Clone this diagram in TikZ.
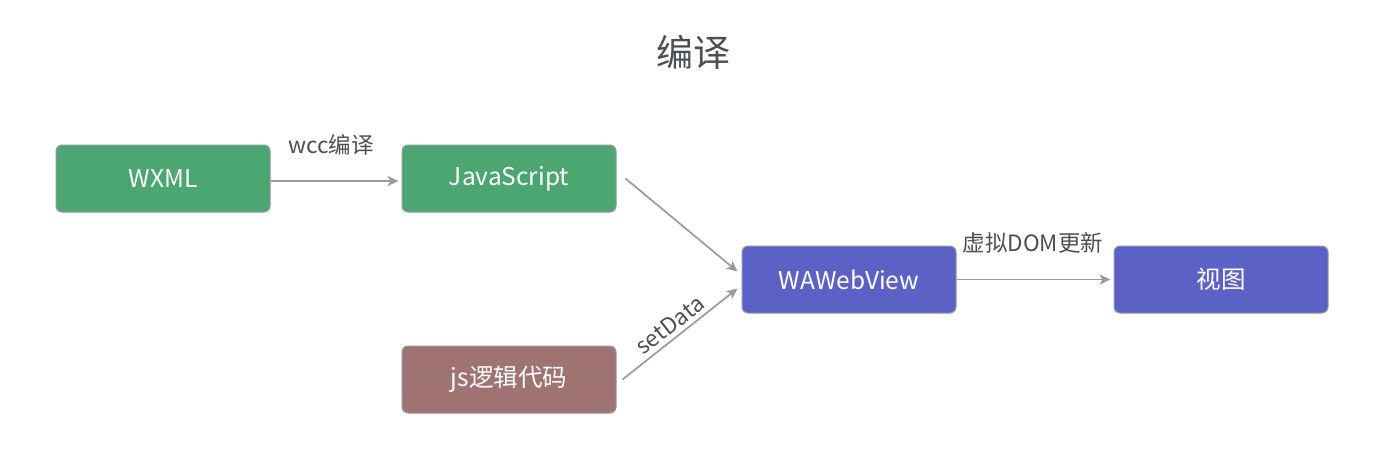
\documentclass[tikz,border=0pt]{standalone}
\usepackage{fontspec}
\setmainfont{Noto Sans CJK SC}
\usetikzlibrary{arrows.meta}

\definecolor{boxgreen}{HTML}{4BA672}
\definecolor{boxpurple}{HTML}{5C62C5}
\definecolor{boxbrown}{HTML}{A07373}
\definecolor{edgegray}{HTML}{8E9CA3}
\definecolor{linegray}{HTML}{9A9A9A}
\definecolor{textgray}{HTML}{4A4F54}

\begin{document}
\begin{tikzpicture}[x=1pt,y=-1pt,
    box/.style={draw=edgegray, line width=1pt, rounded corners=6pt,
      minimum width=214pt, minimum height=67pt, inner sep=0pt,
      text=white, font=\fontsize{24.5}{28}\selectfont},
    flow/.style={draw=linegray, line width=1.7pt,
      -{Stealth[length=11pt,width=10pt,inset=3pt]}},
    lbl/.style={text=textgray, font=\fontsize{22.5}{26}\selectfont}]
    \useasboundingbox (0,0) rectangle (1374,456);
    % title
    \node[text=textgray, font=\fontsize{37}{42}\selectfont] (title) at (693,52) {编译};
    % boxes
    \node[box, fill=boxgreen] (wxml) at (163,178.5) {WXML};
    \node[box, fill=boxgreen] (js) at (509,178.5) {JavaScript};
    \node[box, fill=boxbrown] (logic) at (509,379.5) {js逻辑代码};
    \node[box, fill=boxpurple] (wa) at (849,279.5) {WAWebView};
    \node[box, fill=boxpurple] (view) at (1221,279.5) {视图};
    % connectors
    \draw[flow] ([yshift=-2.5]wxml.east) -- ([xshift=-3,yshift=-2.5]js.west);
    \node[lbl] (wcc) at (331,145) {wcc编译};
    \draw[flow] ([xshift=9]js.east) -- ([xshift=-4,yshift=8]wa.west);
    \draw[flow] ([xshift=6]logic.east) -- ([xshift=-4,yshift=-9]wa.west);
    \node[lbl, rotate=38] (set) at (670,325) {setData};
    \draw[flow] (wa.east) -- ([xshift=-3]view.west);
    \node[lbl] (vdom) at (1033,243) {虚拟DOM更新};
\end{tikzpicture}
\end{document}
